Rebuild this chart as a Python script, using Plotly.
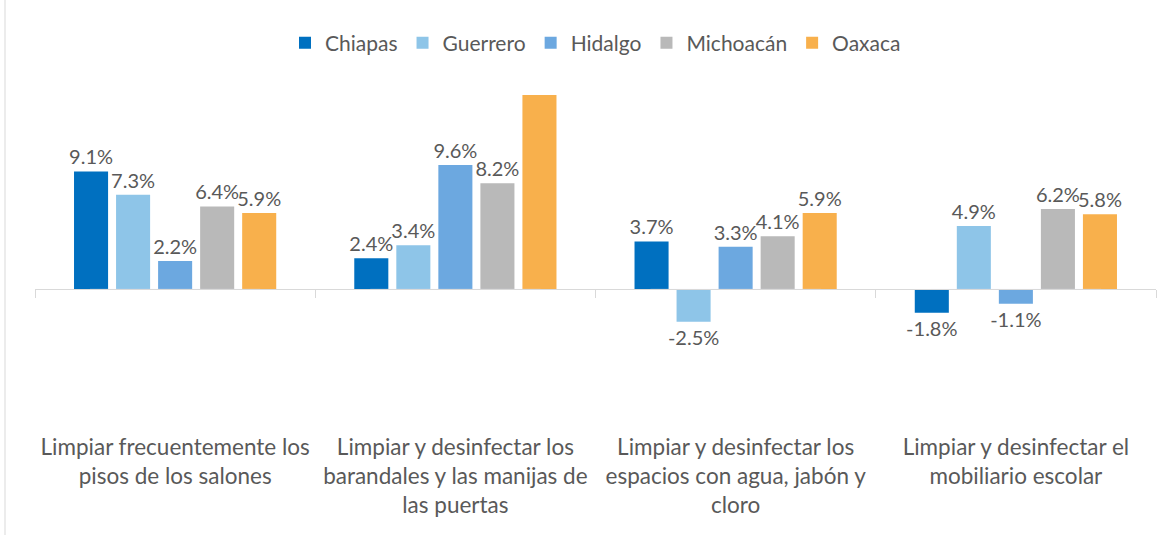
import plotly.graph_objects as go

categories = [
    "Limpiar frecuentemente los<br>pisos de los salones",
    "Limpiar y desinfectar los<br>barandales y las manijas de<br>las puertas",
    "Limpiar y desinfectar los<br>espacios con agua, jabón y<br>cloro",
    "Limpiar y desinfectar el<br>mobiliario escolar",
]
series_names = ["Chiapas", "Guerrero", "Hidalgo", "Michoacán", "Oaxaca"]
chiapas = [9.1, 2.4, 3.7, -1.8]
guerrero = [7.3, 3.4, -2.5, 4.9]
hidalgo = [2.2, 9.6, 3.3, -1.1]
michoacan = [6.4, 8.2, 4.1, 6.2]
oaxaca = [5.9, 15.0, 5.9, 5.8]
colors = ["#0070C0", "#8EC5E8", "#6CA8E0", "#B9B9B9", "#F8B04C"]

y_min, y_max = -10, 15
series_values = [chiapas, guerrero, hidalgo, michoacan, oaxaca]

fig = go.Figure()
for name, vals, col in zip(series_names, series_values, colors):
    labels = [f"{v:.1f}%" if v < y_max else "" for v in vals]
    fig.add_trace(go.Bar(
        x=categories, y=vals, name=name,
        marker=dict(color=col, line=dict(width=0)),
        text=labels, textposition="outside", cliponaxis=False,
        constraintext="none",
        textfont=dict(size=20, color="#595959", family="Lato"),
    ))

zero_pos = (0 - y_min) / (y_max - y_min)

fig.update_layout(
    width=1174, height=535,
    paper_bgcolor="white", plot_bgcolor="white",
    margin=dict(l=35, r=18, t=95, b=116, autoexpand=False),
    barmode="group", bargap=0.25, bargroupgap=0.19,
    font=dict(family="Lato", color="#595959"),
    showlegend=True,
    legend=dict(orientation="h", x=0.5, xanchor="center", y=1.16, yanchor="middle",
                font=dict(size=21, color="#595959"), itemwidth=30,
                traceorder="normal"),
    xaxis=dict(type="category", showline=False, ticks="", showgrid=False,
               automargin=False,
               tickfont=dict(size=22.5, color="#595959"), ticklabelstandoff=12,
               range=[-0.5, 3.5]),
    xaxis2=dict(type="category", overlaying="x", matches="x", anchor="free",
                automargin=False,
                position=zero_pos, showline=True, linecolor="#D9D9D9", linewidth=1,
                ticks="outside", tickson="boundaries", ticklen=8, tickcolor="#D9D9D9",
                showticklabels=False, showgrid=False),
    yaxis=dict(range=[y_min, y_max], visible=False, showgrid=False, zeroline=False,
               automargin=False),
    shapes=[dict(type="line", xref="paper", yref="paper",
                 x0=-30 / 1121, x1=-30 / 1121, y0=-0.36, y1=1.3,
                 line=dict(color="#D9D9D9", width=1))],
)
# invisible trace to populate xaxis2 categories
fig.add_trace(go.Bar(x=categories, y=[0]*len(categories), xaxis="x2", showlegend=False,
                     marker=dict(color="rgba(0,0,0,0)"), hoverinfo="skip"))

fig.write_html("out.html", config={"displayModeBar": False},
               post_script="document.body.style.margin='0';")
